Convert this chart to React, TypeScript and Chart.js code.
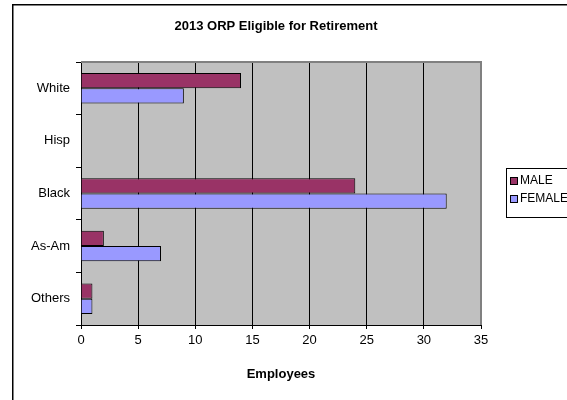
import React, { useEffect, useRef } from "react";
import { Chart, registerables } from "chart.js";

Chart.register(...registerables);

const categories = ["White", "Hisp", "Black", "As-Am", "Others"];
const maleValues = [14, 0, 24, 2, 1];
const femaleValues = [9, 0, 32, 7, 1];
const seriesNames = ["MALE", "FEMALE"];
const seriesColors = ["#993366", "#9999FF"];
const xTicks = { min: 0, max: 35, step: 5 };
const chartTitle = "2013 ORP Eligible for Retirement";
const xTitle = "Employees";

const FONT = "'Liberation Sans', Arial, sans-serif";

const decorPlugin = {
  id: "decor",
  beforeDraw(chart: any) {
    const { ctx, chartArea: a, width, height } = chart;
    ctx.save();
    ctx.fillStyle = "#ffffff";
    ctx.fillRect(0, 0, width, height);
    ctx.fillStyle = "#C0C0C0";
    ctx.fillRect(a.left, a.top, a.right - a.left, a.bottom - a.top);
    ctx.strokeStyle = "#000000";
    ctx.lineWidth = 1.5;
    ctx.beginPath();
    ctx.moveTo(12.75, height + 5);
    ctx.lineTo(12.75, 4.75);
    ctx.lineTo(width + 5, 4.75);
    ctx.stroke();
    ctx.restore();
  },
  beforeDatasetsDraw(chart: any) {
    const { ctx, chartArea: a } = chart;
    ctx.save();
    ctx.strokeStyle = "#808080";
    ctx.lineWidth = 2;
    ctx.beginPath();
    ctx.moveTo(a.left, a.top);
    ctx.lineTo(a.right, a.top);
    ctx.lineTo(a.right, a.bottom);
    ctx.stroke();
    ctx.restore();
  },
  afterDraw(chart: any) {
    const { ctx } = chart;
    ctx.save();
    ctx.fillStyle = "#000000";
    ctx.font = `bold 13px ${FONT}`;
    ctx.textAlign = "center";
    ctx.textBaseline = "middle";
    ctx.fillText(chartTitle, 276, 26);
    const lx = 506, ly = 168, lh = 49;
    ctx.strokeStyle = "#000000";
    ctx.lineWidth = 1;
    ctx.strokeRect(lx + 0.5, ly + 0.5, 100, lh);
    ctx.font = `12px ${FONT}`;
    ctx.textAlign = "left";
    chart.data.datasets.forEach((ds: any, i: number) => {
      const cy = ly + 13 + i * 18;
      ctx.fillStyle = ds.backgroundColor;
      ctx.fillRect(lx + 4.5, cy - 3.5, 7, 7);
      ctx.strokeStyle = "#000000";
      ctx.strokeRect(lx + 4.5, cy - 3.5, 7, 7);
      ctx.fillStyle = "#000000";
      ctx.fillText(ds.label, lx + 14, cy);
    });
    ctx.restore();
  },
};

export default function App() {
  const ref = useRef<HTMLCanvasElement | null>(null);
  useEffect(() => {
    if (!ref.current) return;
    const chart = new Chart(ref.current, {
      type: "bar",
      data: {
        labels: categories,
        datasets: [
          {
            label: seriesNames[0],
            data: maleValues,
            backgroundColor: seriesColors[0],
            borderColor: "#000000",
            borderWidth: 1,
          },
          {
            label: seriesNames[1],
            data: femaleValues,
            backgroundColor: seriesColors[1],
            borderColor: "#000000",
            borderWidth: 1,
          },
        ],
      },
      options: {
        indexAxis: "y",
        responsive: false,
        animation: false,
        layout: { padding: { top: 62, right: 86, left: 0, bottom: 0 } },
        datasets: { bar: { categoryPercentage: 0.58, barPercentage: 1 } },
        plugins: {
          legend: { display: false },
          title: { display: false },
          tooltip: { enabled: false },
        },
        scales: {
          x: {
            min: xTicks.min,
            max: xTicks.max,
            ticks: {
              stepSize: xTicks.step,
              color: "#000000",
              font: { family: FONT, size: 13 },
              padding: 4,
            },
            grid: { color: "#000000", lineWidth: 1, tickLength: 4 },
            border: { color: "#000000", width: 1 },
            title: {
              display: true,
              text: xTitle,
              color: "#000000",
              font: { family: FONT, size: 13, weight: "bold" },
              padding: { top: 0, bottom: 18 },
            },
            afterFit: (s: any) => {
              s.height = 75;
            },
          },
          y: {
            type: "category",
            ticks: {
              color: "#000000",
              font: { family: FONT, size: 13 },
              padding: 6,
            },
            grid: {
              drawOnChartArea: false,
              color: "#000000",
              tickLength: 5,
            },
            border: { color: "#000000", width: 1 },
            afterFit: (s: any) => {
              s.width = 81;
            },
          },
        },
      },
      plugins: [decorPlugin],
    });
    return () => chart.destroy();
  }, []);
  return (
    <div style={{ position: "fixed", left: 0, top: 0, width: 567, height: 400 }}>
      <canvas ref={ref} width={567} height={400} />
    </div>
  );
}
